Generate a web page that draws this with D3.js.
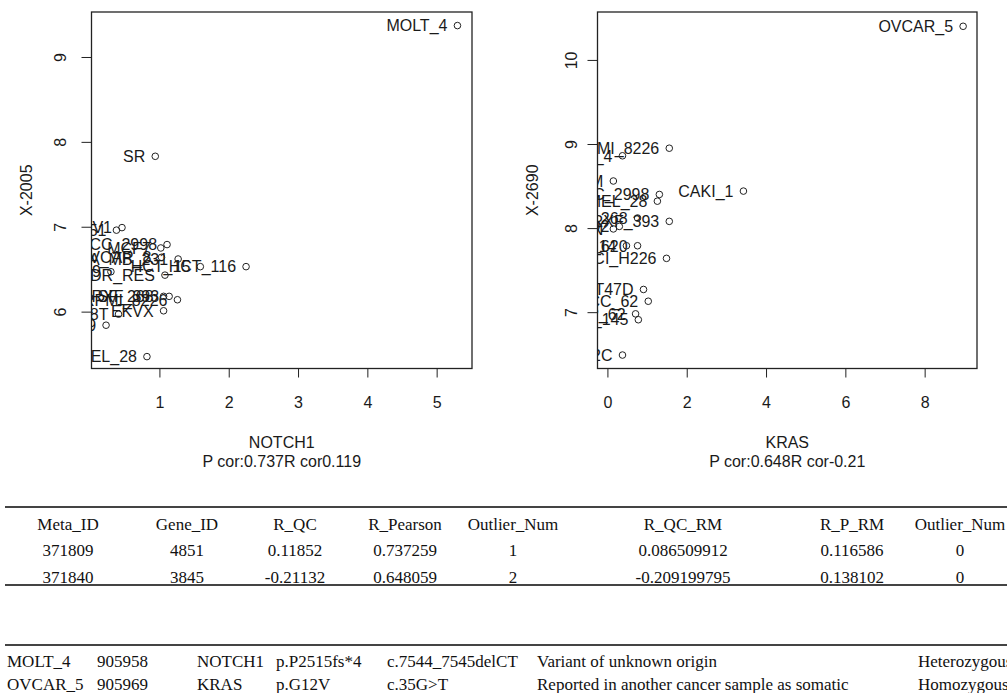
<!DOCTYPE html>
<html>
<head>
<meta charset="utf-8">
<script src="https://cdn.jsdelivr.net/npm/d3@7"></script>
<style>
body { margin: 0; background: #fff; }
svg { display: block; background: #fff; }
.plot text { font-family: "Liberation Sans", Arial, sans-serif; fill: #1a1a1a; }
.tbl text { font-family: "Liberation Serif", "Times New Roman", serif; fill: #111; font-size: 17px; }
</style>
</head>
<body>
<svg width="1007" height="693"></svg>
<script>
// left panel: NOTCH1 vs X-2005
var notch_cells = ["MOLT_4", "SR", "IGROV1", "U251", "HCC_2998", "MCF7", "OVCAR_8",
    "MDA_MB_231", "HCT_15", "HCT_116", "NCI_ADR_RES", "A549", "RXF_393", "RPMI_8226",
    "SF_268", "EKVX", "HS578T", "BT_549", "SK_MEL_28"];
var notch_x = [5.30, 0.94, 0.46, 0.38, 1.11, 1.02, 1.03, 1.27, 1.59, 2.25, 1.08, 0.30,
    1.14, 1.26, 1.06, 1.06, 0.41, 0.23, 0.82];
var notch_y = [9.37, 7.83, 6.99, 6.96, 6.79, 6.75, 6.64, 6.62, 6.53, 6.53, 6.43, 6.47,
    6.18, 6.14, 6.18, 6.01, 5.97, 5.84, 5.47];

// right panel: KRAS vs X-2690
var kras_cells = ["OVCAR_5", "CAKI_1", "RPMI_8226", "MOLT_4", "NCI_H322M", "HCC_2998",
    "SK_MEL_28", "RXF_393", "SF_268", "HOP_92", "ACHN", "M14", "SW_620", "NCI_H226",
    "T47D", "UACC_62", "HOP_62", "DU_145", "SN12C"];
var kras_x = [8.97, 3.43, 1.56, 0.38, 0.15, 1.31, 1.26, 1.56, 0.76, 0.30, 0.15, 0.48,
    0.76, 1.49, 0.91, 1.03, 0.71, 0.78, 0.38];
var kras_y = [10.40, 8.44, 8.95, 8.86, 8.56, 8.40, 8.32, 8.08, 8.12, 8.02, 7.99, 7.79,
    7.79, 7.64, 7.27, 7.13, 6.98, 6.91, 6.49];

var notch_xticks = [1, 2, 3, 4, 5];
var notch_yticks = [6, 7, 8, 9];
var kras_xticks = [0, 2, 4, 6, 8];
var kras_yticks = [7, 8, 9, 10];

var table_header = ["Meta_ID", "Gene_ID", "R_QC", "R_Pearson", "Outlier_Num", "R_QC_RM", "R_P_RM", "Outlier_Num"];
var table_rows = [
    ["371809", "4851", "0.11852", "0.737259", "1", "0.086509912", "0.116586", "0"],
    ["371840", "3845", "-0.21132", "0.648059", "2", "-0.209199795", "0.138102", "0"]
];
var mutation_rows = [
    ["MOLT_4", "905958", "NOTCH1", "p.P2515fs*4", "c.7544_7545delCT", "Variant of unknown origin", "Heterozygous"],
    ["OVCAR_5", "905969", "KRAS", "p.G12V", "c.35G>T", "Reported in another cancer sample as somatic", "Homozygous"]
];

function draw_panel(p) {
    var svg = d3.select("svg");
    var g = svg.append("g").attr("class", "plot");

    var xs = d3.scaleLinear().domain(p.xlim).range([p.left, p.right]);
    var ys = d3.scaleLinear().domain(p.ylim).range([p.bottom, p.top]);

    svg.append("clipPath").attr("id", p.id + "-clip")
        .append("rect")
            .attr("x", p.left).attr("y", p.top)
            .attr("width", p.right - p.left).attr("height", p.bottom - p.top);

    var inner = g.append("g").attr("clip-path", "url(#" + p.id + "-clip)");

    inner.selectAll("text.lab")
        .data(p.cells)
        .enter()
        .append("text")
            .attr("class", "lab")
            .attr("x", function(d, i) { return xs(p.x[i]) - 10; })
            .attr("y", function(d, i) { return ys(p.y[i]); })
            .attr("dy", "0.36em")
            .attr("text-anchor", "end")
            .style("font-size", "16px")
            .text(function(d) { return d; });

    inner.selectAll("circle")
        .data(p.cells)
        .enter()
        .append("circle")
            .attr("cx", function(d, i) { return xs(p.x[i]); })
            .attr("cy", function(d, i) { return ys(p.y[i]); })
            .attr("r", 3.3)
            .attr("fill", "none")
            .attr("stroke", "#222")
            .attr("stroke-width", 1);

    // x axis
    var xg = g.append("g")
        .attr("transform", "translate(0," + p.bottom + ")")
        .style("color", "#222")
        .call(d3.axisBottom(xs).tickValues(p.xticks).tickSize(9).tickFormat(d3.format("d")));
    xg.select(".domain").remove();
    xg.selectAll("text").attr("y", 39).attr("dy", 0).style("font-size", "16px");

    // y axis, labels parallel to the axis
    var yg = g.append("g")
        .attr("transform", "translate(" + p.left + ",0)")
        .style("color", "#222")
        .call(d3.axisLeft(ys).tickValues(p.yticks).tickSize(10).tickFormat(d3.format("d")));
    yg.select(".domain").remove();
    yg.selectAll("text")
        .attr("x", 0).attr("dy", 0)
        .attr("text-anchor", "middle")
        .attr("transform", "translate(" + (-p.ytick_off) + ",0) rotate(-90)")
        .style("font-size", "16px");

    g.append("rect")
        .attr("x", p.left).attr("y", p.top)
        .attr("width", p.right - p.left).attr("height", p.bottom - p.top)
        .attr("fill", "none")
        .attr("stroke", "#222")
        .attr("stroke-width", 1.3);

    var cx = (p.left + p.right) / 2;
    g.append("text")
        .attr("x", cx).attr("y", 448)
        .attr("text-anchor", "middle")
        .style("font-size", "16px")
        .text(p.xlab);
    g.append("text")
        .attr("x", cx).attr("y", 467)
        .attr("text-anchor", "middle")
        .style("font-size", "16px")
        .text(p.sub);

    g.append("text")
        .attr("transform", "translate(" + p.ylab_x + "," + ((p.top + p.bottom) / 2) + ") rotate(-90)")
        .attr("text-anchor", "middle")
        .style("font-size", "16px")
        .text(p.ylab);
}

function draw_tables() {
    var svg = d3.select("svg");
    var g = svg.append("g").attr("class", "tbl");

    var col_mid = [68, 187, 295, 405, 513, 683, 852, 960];
    var rules = [507, 585, 645];

    g.selectAll("line")
        .data(rules)
        .enter()
        .append("line")
            .attr("x1", 5).attr("x2", 1007)
            .attr("y1", function(d) { return d; })
            .attr("y2", function(d) { return d; })
            .attr("stroke", "#444")
            .attr("stroke-width", 2);

    g.selectAll("text.head")
        .data(table_header)
        .enter()
        .append("text")
            .attr("class", "head")
            .attr("x", function(d, i) { return col_mid[i]; })
            .attr("y", 529.5)
            .attr("text-anchor", "middle")
            .text(function(d) { return d; });

    var row_y = [555.5, 582.5];
    table_rows.forEach(function(row, r) {
        g.selectAll("text.r" + r)
            .data(row)
            .enter()
            .append("text")
                .attr("class", "r" + r)
                .attr("x", function(d, i) { return col_mid[i]; })
                .attr("y", row_y[r])
                .attr("text-anchor", "middle")
                .text(function(d) { return d; });
    });

    var mut_left = [7, 97, 197, 276, 387, 537, 918];
    var mut_y = [666.5, 690];
    mutation_rows.forEach(function(row, r) {
        g.selectAll("text.m" + r)
            .data(row)
            .enter()
            .append("text")
                .attr("class", "m" + r)
                .attr("x", function(d, i) { return mut_left[i]; })
                .attr("y", mut_y[r])
                .text(function(d) { return d; });
    });
}

function init() {
    draw_panel({
        id: "notch", cells: notch_cells, x: notch_x, y: notch_y,
        left: 91.5, right: 472, top: 12, bottom: 368.5,
        xlim: [0.02, 5.51], ylim: [5.33, 9.53],
        xticks: notch_xticks, yticks: notch_yticks,
        ytick_off: 25.5, ylab_x: 31.5,
        xlab: "NOTCH1", sub: "P cor:0.737R cor0.119", ylab: "X-2005"
    });
    draw_panel({
        id: "kras", cells: kras_cells, x: kras_x, y: kras_y,
        left: 597.5, right: 977, top: 12, bottom: 368.5,
        xlim: [-0.25, 9.32], ylim: [6.33, 10.57],
        xticks: kras_xticks, yticks: kras_yticks,
        ytick_off: 20.5, ylab_x: 538,
        xlab: "KRAS", sub: "P cor:0.648R cor-0.21", ylab: "X-2690"
    });
    draw_tables();
}

init();
</script>
</body>
</html>
